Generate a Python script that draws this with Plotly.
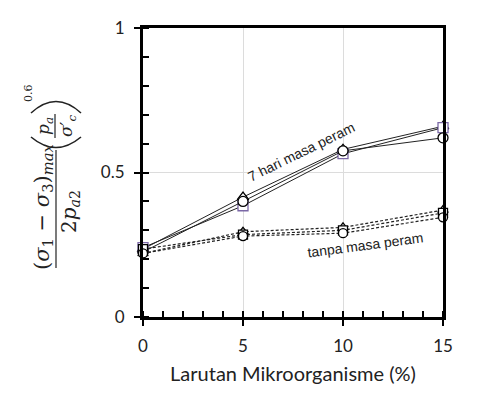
import plotly.graph_objects as go

# Data
x_vals = [0, 5, 10, 15]
peram7_triangle = [0.235, 0.415, 0.58, 0.66]
peram7_square = [0.24, 0.385, 0.565, 0.655]
peram7_circle = [0.225, 0.40, 0.575, 0.62]
tanpa_triangle = [0.22, 0.295, 0.31, 0.37]
tanpa_square = [0.235, 0.285, 0.30, 0.36]
tanpa_circle = [0.22, 0.28, 0.29, 0.345]

x_ticks = [0, 5, 10, 15]
y_ticks = [0, 0.5, 1]
y_ticklabels = ["0", "0.5", "1"]

W, H = 478, 401
L, R, T, B = 143, 443, 28, 317


def px(x):
    return (x - L) / (R - L)


def py(y):
    return (B - y) / (B - T)


fig = go.Figure()

solid_specs = [
    (peram7_triangle, "triangle-up", "black"),
    (peram7_square, "square", "#7b68a6"),
    (peram7_circle, "circle", "black"),
]
for ys, sym, mcol in solid_specs:
    fig.add_trace(go.Scatter(
        x=x_vals, y=ys, mode="lines+markers",
        line=dict(color="#222222", width=1),
        marker=dict(symbol=sym, size=10, color="white",
                    line=dict(color=mcol, width=1.3)),
        showlegend=False, cliponaxis=False,
    ))

dashed_specs = [
    (tanpa_triangle, "triangle-up"),
    (tanpa_square, "square"),
    (tanpa_circle, "circle"),
]
for ys, sym in dashed_specs:
    fig.add_trace(go.Scatter(
        x=x_vals, y=ys, mode="lines+markers",
        line=dict(color="#222222", width=1.2, dash="3px,2px"),
        marker=dict(symbol=sym, size=9, color="white",
                    line=dict(color="black", width=1.3)),
        showlegend=False, cliponaxis=False,
    ))

# overlay axes for inward parts of major ticks
fig.add_trace(go.Scatter(x=[0], y=[0], xaxis="x2", yaxis="y2",
                         mode="markers", marker=dict(opacity=0),
                         showlegend=False, hoverinfo="skip"))

tick_font = dict(family="Lato, Open Sans, sans-serif", size=17, color="#222222")

fig.update_layout(
    width=W, height=H,
    margin=dict(l=L, r=W - R, t=T, b=H - B),
    paper_bgcolor="white", plot_bgcolor="white",
    showlegend=False,
    xaxis=dict(
        range=[0, 15], tickvals=x_ticks, ticktext=[str(v) for v in x_ticks],
        ticks="outside", ticklen=6, tickwidth=2, tickcolor="black",
        showline=True, linewidth=3, linecolor="black", mirror=True,
        showgrid=True, gridcolor="#dcdcdc", gridwidth=1,
        zeroline=False, tickfont=tick_font, ticklabelstandoff=6,
        minor=dict(dtick=1, ticks="inside", ticklen=6, tickwidth=1.5,
                   tickcolor="black", showgrid=False),
        title=dict(text="Larutan Mikroorganisme (%)",
                   font=dict(family="Lato, Open Sans, sans-serif", size=20,
                             color="#222222"), standoff=12),
    ),
    yaxis=dict(
        range=[0, 1], tickvals=y_ticks, ticktext=y_ticklabels,
        ticks="outside", ticklen=6, tickwidth=2, tickcolor="black",
        showline=True, linewidth=3, linecolor="black", mirror=True,
        showgrid=True, gridcolor="#dcdcdc", gridwidth=1,
        zeroline=False, tickfont=tick_font, ticklabelstandoff=6,
        minor=dict(dtick=0.1, ticks="inside", ticklen=6, tickwidth=1.5,
                   tickcolor="black", showgrid=False),
    ),
    xaxis2=dict(range=[0, 15], overlaying="x", tickvals=x_ticks,
                ticks="inside", ticklen=6, tickwidth=2, tickcolor="black",
                showticklabels=False, showgrid=False, zeroline=False,
                showline=False, side="bottom"),
    yaxis2=dict(range=[0, 1], overlaying="y", tickvals=y_ticks,
                ticks="inside", ticklen=6, tickwidth=2, tickcolor="black",
                showticklabels=False, showgrid=False, zeroline=False,
                showline=False, side="left"),
)

text_font = dict(family="Liberation Sans, Arial, sans-serif", size=14, color="#222222")
fig.add_annotation(text="7 hari masa peram", xref="paper", yref="paper",
                   x=px(301), y=py(152), showarrow=False, textangle=-26,
                   font=text_font, xanchor="center", yanchor="middle")
fig.add_annotation(text="tanpa masa peram", xref="paper", yref="paper",
                   x=px(365), y=py(245), showarrow=False, textangle=-7.5,
                   font=text_font, xanchor="center", yanchor="middle")

# Y-axis title built as a rotated math expression
serif = "DejaVu Serif, Liberation Serif, serif"
math_font = dict(family=serif, size=21, color="#222222")
den_font = dict(family=serif, size=20, color="#222222")
small_math = dict(family=serif, size=17, color="#222222")


def ann(text, x, y, font, **kw):
    fig.add_annotation(text=text, xref="paper", yref="paper", x=px(x), y=py(y),
                       showarrow=False, textangle=-90, font=font,
                       xanchor="center", yanchor="middle", **kw)


ann("(<i>σ</i><sub>1</sub> − <i>σ</i><sub>3</sub>)<sub><i>max</i></sub>", 43, 207, math_font)
ann("2<i>p</i><sub><i>a</i>2</sub>", 70, 212, den_font)
ann("<i>p</i><sub><i>a</i></sub>", 44, 126, small_math)
ann("<i>σ</i>′<sub><i>c</i></sub>", 67, 126, small_math)
ann("0.6", 28, 93, dict(family=serif, size=11, color="#222222"))


def path_pts(pts):
    (x0, y0), (cx, cy), (x1, y1) = pts
    return (f"M {px(x0)},{py(y0)} Q {px(cx)},{py(cy)} {px(x1)},{py(y1)}")


# big parentheses (rotated) drawn as arcs
fig.add_shape(type="path", xref="paper", yref="paper",
              path=path_pts([(31, 113), (56, 90), (81, 113)]),
              line=dict(color="#222222", width=1.6))
fig.add_shape(type="path", xref="paper", yref="paper",
              path=path_pts([(31, 137), (56, 158), (81, 137)]),
              line=dict(color="#222222", width=1.6))

fig.add_shape(type="line", xref="paper", yref="paper",
              x0=px(56), x1=px(56), y0=py(150), y1=py(268),
              line=dict(color="#222222", width=1.2))
fig.add_shape(type="line", xref="paper", yref="paper",
              x0=px(55), x1=px(55), y0=py(114), y1=py(138),
              line=dict(color="#222222", width=1.2))

fig.write_html("out.html")
